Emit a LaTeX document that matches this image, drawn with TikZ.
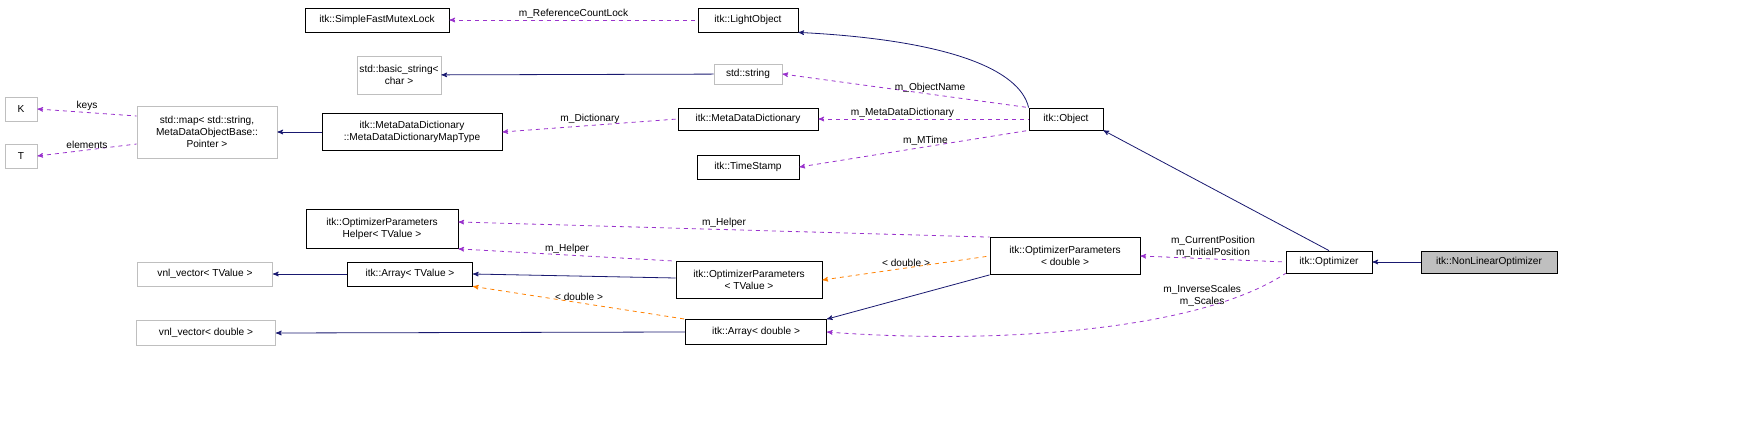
\documentclass[tikz,border=0pt]{standalone}
\usepackage{fontspec}
\setmainfont{Liberation Sans}
\usetikzlibrary{arrows}
\definecolor{navy}{RGB}{25,25,112}
\definecolor{orchid}{RGB}{153,50,204}
\definecolor{grayline}{RGB}{191,191,191}
\begin{document}
\begin{tikzpicture}[
            x = 0.75pt, y = -0.75pt, % pixel grid
            >= stealth',
            font = \fontsize{7.6}{9}\selectfont,
            semithick
        ]

        \tikzset{
            cls/.style = {draw = black, fill = white, inner sep = 1pt, align = center},
            ext/.style = {cls, draw = grayline},
            base/.style = {<-, draw = navy},
            member/.style = {<-, draw = orchid, dashed},
            templ/.style = {<-, draw = orange, dashed},
            lbl/.style = {inner sep = 1pt, align = center}
        }
        \useasboundingbox (0,0) rectangle (1760,427);

        \node[cls] (lock) at (377,20) [minimum width = 144*0.75pt, minimum height = 24*0.75pt] {itk::SimpleFastMutexLock};
        \node[cls] (light) at (748,20) [minimum width = 100*0.75pt, minimum height = 24*0.75pt] {itk::LightObject};
        \node[ext] (bstr) at (399,75) [minimum width = 84*0.75pt, minimum height = 38*0.75pt] {std::basic\_string<\\char >};
        \node[ext] (str) at (748,74) [minimum width = 68*0.75pt, minimum height = 20*0.75pt] {std::string};
        \node[ext] (K) at (21,109) [minimum width = 32*0.75pt, minimum height = 24*0.75pt] {K};
        \node[ext] (T) at (21,156) [minimum width = 32*0.75pt, minimum height = 24*0.75pt] {T};
        \node[ext] (map) at (207,132) [minimum width = 140*0.75pt, minimum height = 52*0.75pt] {std::map< std::string,\\MetaDataObjectBase::\\Pointer >};
        \node[cls] (mapT) at (412,132) [minimum width = 180*0.75pt, minimum height = 37*0.75pt] {itk::MetaDataDictionary\\::MetaDataDictionaryMapType};
        \node[cls] (mdd) at (748,119) [minimum width = 140*0.75pt, minimum height = 22*0.75pt] {itk::MetaDataDictionary};
        \node[cls] (obj) at (1066,119) [minimum width = 74*0.75pt, minimum height = 22*0.75pt] {itk::Object};
        \node[cls] (ts) at (748,167) [minimum width = 102*0.75pt, minimum height = 24*0.75pt] {itk::TimeStamp};
        \node[cls] (helper) at (382,229) [minimum width = 152*0.75pt, minimum height = 39*0.75pt] {itk::OptimizerParameters\\Helper< TValue >};
        \node[cls] (opd) at (1065,256) [minimum width = 150*0.75pt, minimum height = 37*0.75pt] {itk::OptimizerParameters\\< double >};
        \node[ext] (vnlt) at (205,274) [minimum width = 135*0.75pt, minimum height = 24*0.75pt] {vnl\_vector< TValue >};
        \node[cls] (arrt) at (410,274) [minimum width = 125*0.75pt, minimum height = 24*0.75pt] {itk::Array< TValue >};
        \node[cls] (opt) at (749,280) [minimum width = 146*0.75pt, minimum height = 37*0.75pt] {itk::OptimizerParameters\\< TValue >};
        \node[cls] (optim) at (1329,262) [minimum width = 86*0.75pt, minimum height = 22*0.75pt] {itk::Optimizer};
        \node[cls, fill = grayline] (nlo) at (1489,262) [minimum width = 136*0.75pt, minimum height = 22*0.75pt] {itk::NonLinearOptimizer};
        \node[cls] (arrd) at (756,332) [minimum width = 141*0.75pt, minimum height = 25*0.75pt] {itk::Array< double >};
        \node[ext] (vnld) at (206,333) [minimum width = 139*0.75pt, minimum height = 25*0.75pt] {vnl\_vector< double >};

        % inheritance
        \draw[base] (light.south east) .. controls (950,40) and (1020,70) .. (obj.north west);
        \draw[base] (obj.south east) -- (optim.north);
        \draw[base] (optim) -- (nlo);
        \draw[base] (bstr) -- (str);
        \draw[base] (map) -- (mapT);
        \draw[base] (arrt.east) -- (opt.west |- 0,278);
        \draw[base] (arrd.north east) -- (opd.south west);
        \draw[base] (vnlt) -- (arrt);
        \draw[base] (vnld.east) -- (arrd.west);

        % members
        \draw[member] (lock) -- node[lbl, above] {m\_ReferenceCountLock} (light);
        \draw[member] (str.east) -- node[lbl, above, pos = 0.6] {m\_ObjectName} (obj.north west);
        \draw[member] (mdd) -- node[lbl, above, pos = 0.4] {m\_MetaDataDictionary} (obj);
        \draw[member] (ts.east) -- node[lbl, above, pos = 0.55] {m\_MTime} (obj.south west);
        \draw[member] (mapT.east) -- node[lbl, above] {m\_Dictionary} (mdd.west);
        \draw[member] (K.east) -- node[lbl, above] {keys} (map.west |- 0,116);
        \draw[member] (T.east) -- node[lbl, above] {elements} (map.west |- 0,144);
        \draw[member] (helper.east |- 0,222) -- node[lbl, above] {m\_Helper} (opd.north west);
        \draw[member] (helper.south east) -- node[lbl, above] {m\_Helper} (opt.north west);
        \draw[member] (opd.east) -- node[lbl, above] {m\_CurrentPosition\\m\_InitialPosition} (optim.west);
        \draw[member] (arrd.east) .. controls (1000,345) and (1200,330) .. node[lbl, above, pos = 0.75] {m\_InverseScales\\m\_Scales} (optim.south west);

        % template instances
        \draw[templ] (opt.east) -- node[lbl, above] {< double >} (opd.west);
        \draw[templ] (arrt.south east) -- node[lbl, above] {< double >} (arrd.north west);
\end{tikzpicture}
\end{document}
